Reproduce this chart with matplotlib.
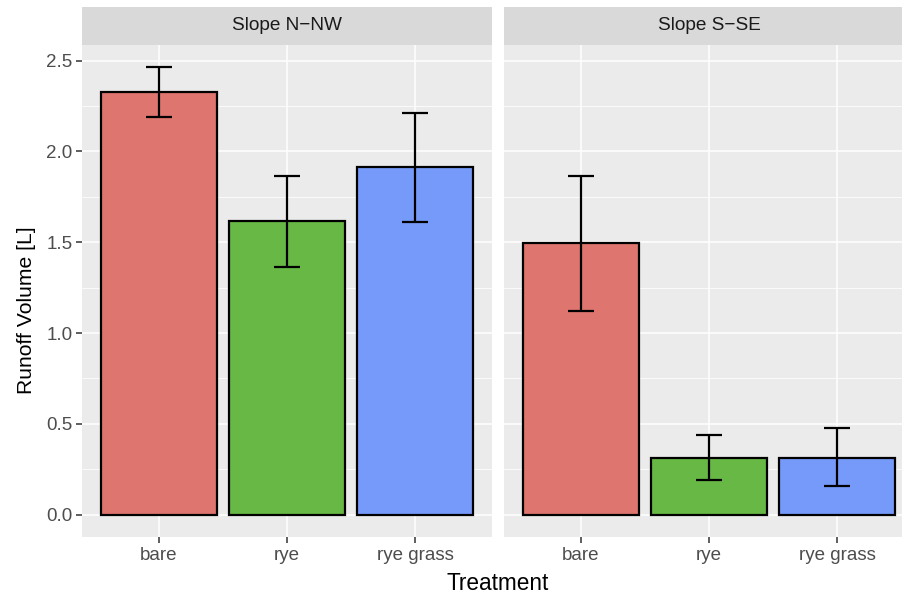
import matplotlib
matplotlib.use("Agg")
import matplotlib.pyplot as plt
import numpy as np

plt.rcParams['font.family'] = ['Liberation Sans', 'DejaVu Sans']

# Data
treatments = ["bare", "rye", "rye grass"]
slopes = ["Slope N\u2212NW", "Slope S\u2212SE"]
runoff_nnw = [2.325, 1.615, 1.912]
lower_nnw = [2.188, 1.363, 1.610]
upper_nnw = [2.463, 1.863, 2.213]
runoff_sse = [1.495, 0.313, 0.313]
lower_sse = [1.119, 0.189, 0.156]
upper_sse = [1.864, 0.440, 0.476]
yticks = [0.0, 0.5, 1.0, 1.5, 2.0, 2.5]
ytick_labels = ["0.0", "0.5", "1.0", "1.5", "2.0", "2.5"]

fill_colors = ["#DE756F", "#67B845", "#759AFA"]
panel_bg = "#EBEBEB"
strip_bg = "#D9D9D9"
text_grey = "#4D4D4D"

W, H = 903, 598
fig = plt.figure(figsize=(W / 100, H / 100), dpi=100)

def px_rect(x0, y0, x1, y1):
    return [x0 / W, 1 - y1 / H, (x1 - x0) / W, (y1 - y0) / H]

panels = [
    (82, 492, runoff_nnw, lower_nnw, upper_nnw, slopes[0]),
    (504, 914, runoff_sse, lower_sse, upper_sse, slopes[1]),
]

top_px, bottom_px = 45, 537
strip_top = 7
ymax = max(upper_nnw + upper_sse)
ylim = (-0.05 * ymax, 1.05 * ymax)

for i, (x0, x1, vals, lo, hi, title) in enumerate(panels):
    ax = fig.add_axes(px_rect(x0, top_px, x1, bottom_px))
    ax.set_facecolor(panel_bg)
    x = np.arange(1, len(treatments) + 1)
    ax.set_xlim(0.4, len(treatments) + 0.6)
    ax.set_ylim(*ylim)

    # grid
    ax.set_yticks(yticks)
    ax.set_yticks([0.25, 0.75, 1.25, 1.75, 2.25], minor=True)
    ax.set_xticks(x)
    ax.grid(which="major", color="white", linewidth=1.1)
    ax.grid(which="minor", axis="y", color="white", linewidth=0.55)
    ax.set_axisbelow(True)

    ax.bar(x, vals, width=0.9, color=fill_colors, edgecolor="black",
           linewidth=1.6, zorder=3)
    ax.vlines(x, lo, hi, color="black", linewidth=1.6, zorder=4)
    ax.hlines(lo, x - 0.1, x + 0.1, color="black", linewidth=1.6, zorder=4)
    ax.hlines(hi, x - 0.1, x + 0.1, color="black", linewidth=1.6, zorder=4)

    for s in ax.spines.values():
        s.set_visible(False)

    ax.set_xticklabels(treatments, fontsize=13.5, color=text_grey)
    ax.tick_params(axis="x", which="major", length=4, width=1.1,
                   color="#333333", pad=3)
    ax.tick_params(axis="y", which="minor", length=0)
    if i == 0:
        ax.set_yticklabels(ytick_labels, fontsize=13.5, color=text_grey)
        ax.tick_params(axis="y", which="major", length=4, width=1.1,
                       color="#333333", pad=3)
    else:
        ax.tick_params(axis="y", which="major", length=0, labelleft=False)

    # facet strip
    sax = fig.add_axes(px_rect(x0, strip_top, x1, top_px))
    sax.set_facecolor(strip_bg)
    sax.set_xticks([])
    sax.set_yticks([])
    for s in sax.spines.values():
        s.set_visible(False)
    sax.text(((492 - 82) / 2) / (x1 - x0), 0.5, title, transform=sax.transAxes,
             ha="center", va="center", fontsize=13.7, color="#1A1A1A")

fig.text(27 / W, 1 - 310 / H, "Runoff Volume [L]", rotation=90,
         ha="center", va="center", fontsize=15.2, color="black")
fig.text(498 / W, 1 - 584 / H, "Treatment", ha="center", va="center",
         fontsize=16.3, color="black")

fig.savefig("out.png", dpi=100, facecolor="white")
